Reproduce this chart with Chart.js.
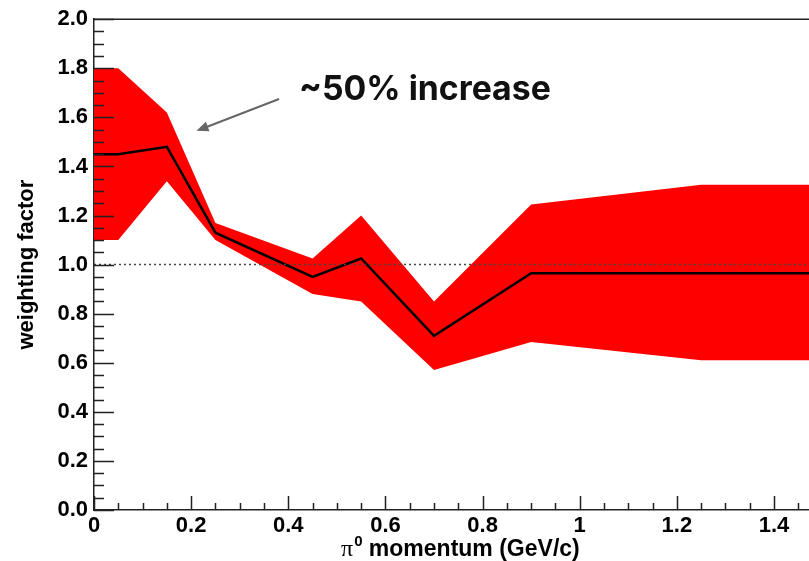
<!DOCTYPE html>
<html>
<head>
<meta charset="utf-8">
<script src="https://cdn.jsdelivr.net/npm/chart.js@4/dist/chart.umd.min.js"></script>
<style>
  html, body { margin: 0; padding: 0; background: #fff; }
  #wrap { width: 809px; height: 561px; }
</style>
</head>
<body>
<div id="wrap"><canvas id="weightChart" width="809" height="561"></canvas></div>
<script>
// pi0 momentum bin edges (GeV/c)
const momentum = [0, 0.05, 0.15, 0.25, 0.45, 0.55, 0.70, 0.90, 1.25, 1.50];
// central weighting factor
const weight = [1.45, 1.45, 1.48, 1.13, 0.95, 1.025, 0.71, 0.965, 0.965, 0.965];
// uncertainty band
const upper = [1.80, 1.80, 1.62, 1.17, 1.025, 1.20, 0.85, 1.245, 1.325, 1.325];
const lower = [1.10, 1.10, 1.34, 1.10, 0.88, 0.85, 0.57, 0.685, 0.61, 0.61];

const yTicks = [0, 0.2, 0.4, 0.6, 0.8, 1.0, 1.2, 1.4, 1.6, 1.8, 2.0];
const xTicks = [0, 0.2, 0.4, 0.6, 0.8, 1, 1.2, 1.4];

const annotationText = '~50% increase';
const xTitle = ' momentum (GeV/c)';
const yTitle = 'weighting factor';

const tickFont = { family: 'Liberation Sans', weight: 'bold', size: 22 };

function toPoints(vals) {
    return momentum.map((x, i) => ({ x: x, y: vals[i] }));
}

// inward ROOT style ticks, top frame, y=1 reference line, annotation
const rootDecor = {
    id: 'rootDecor',
    afterDatasetsDraw(chart) {
        const ctx = chart.ctx;
        const xs = chart.scales.x, ys = chart.scales.y;
        const area = chart.chartArea;
        ctx.save();
        // dotted unity line
        ctx.strokeStyle = '#444';
        ctx.lineWidth = 1.5;
        ctx.setLineDash([2, 3]);
        ctx.beginPath();
        ctx.moveTo(area.left, ys.getPixelForValue(1));
        ctx.lineTo(area.right, ys.getPixelForValue(1));
        ctx.stroke();
        ctx.setLineDash([]);
        ctx.restore();
    },
    afterDraw(chart) {
        const ctx = chart.ctx;
        const xs = chart.scales.x, ys = chart.scales.y;
        const area = chart.chartArea;
        ctx.save();
        ctx.strokeStyle = '#222';
        ctx.lineWidth = 1.5;
        // top frame
        ctx.beginPath();
        ctx.moveTo(area.left, area.top);
        ctx.lineTo(area.right, area.top);
        ctx.stroke();
        // y ticks
        ctx.beginPath();
        for (let i = 0; i <= 40; i++) {
            const py = Math.round(ys.getPixelForValue(i * 0.05)) + 0.5;
            const len = i % 4 === 0 ? 20 : 10;
            ctx.moveTo(area.left, py);
            ctx.lineTo(area.left + len, py);
        }
        // x ticks
        for (let i = 0; i * 0.05 <= xs.max; i++) {
            const px = Math.round(xs.getPixelForValue(i * 0.05)) + 0.5;
            const len = i % 4 === 0 ? 14 : 7;
            ctx.moveTo(px, area.bottom);
            ctx.lineTo(px, area.bottom - len);
        }
        ctx.stroke();

        // x axis title, right aligned at x = 1
        const right = xs.getPixelForValue(1);
        const base = 556;
        ctx.fillStyle = '#000';
        ctx.textBaseline = 'alphabetic';
        ctx.font = 'bold 23px "Liberation Sans"';
        const wMain = ctx.measureText(xTitle).width;
        ctx.font = 'bold 15px "Liberation Sans"';
        const wSup = ctx.measureText('0').width;
        ctx.font = '24px "Liberation Serif"';
        const wPi = ctx.measureText('π').width;
        let x0 = right - wMain - wSup - wPi - 1;
        ctx.fillText('π', x0, base);
        ctx.font = 'bold 15px "Liberation Sans"';
        ctx.fillText('0', x0 + wPi + 1, base - 10);
        ctx.font = 'bold 23px "Liberation Sans"';
        ctx.fillText(xTitle, x0 + wPi + wSup + 1, base);

        // annotation
        let size = 36;
        ctx.font = '700 ' + size + 'px Inter';
        size = size * 252 / ctx.measureText(annotationText).width;
        ctx.font = '700 ' + size.toFixed(1) + 'px Inter';
        ctx.fillStyle = '#111';
        ctx.fillText(annotationText, xs.getPixelForValue(0.422), ys.getPixelForValue(1.671));

        // arrow
        const ax0 = xs.getPixelForValue(0.381), ay0 = ys.getPixelForValue(1.675);
        const ax1 = xs.getPixelForValue(0.211), ay1 = ys.getPixelForValue(1.545);
        const ang = Math.atan2(ay1 - ay0, ax1 - ax0);
        ctx.strokeStyle = '#666';
        ctx.fillStyle = '#666';
        ctx.lineWidth = 2;
        ctx.beginPath();
        ctx.moveTo(ax0, ay0);
        ctx.lineTo(ax1 - 8 * Math.cos(ang), ay1 - 8 * Math.sin(ang));
        ctx.stroke();
        ctx.beginPath();
        ctx.moveTo(ax1, ay1);
        ctx.lineTo(ax1 - 12 * Math.cos(ang) + 5 * Math.sin(ang), ay1 - 12 * Math.sin(ang) - 5 * Math.cos(ang));
        ctx.lineTo(ax1 - 12 * Math.cos(ang) - 5 * Math.sin(ang), ay1 - 12 * Math.sin(ang) + 5 * Math.cos(ang));
        ctx.closePath();
        ctx.fill();
        ctx.restore();
    }
};

new Chart(document.getElementById('weightChart').getContext('2d'), {
    type: 'line',
    data: {
        datasets: [
            {
                label: 'weight',
                data: toPoints(weight),
                borderColor: '#000',
                borderWidth: 2.5,
                pointRadius: 0,
                fill: false,
                order: 0
            },
            {
                label: 'upper',
                data: toPoints(upper),
                borderWidth: 0,
                borderColor: 'rgba(0,0,0,0)',
                backgroundColor: '#ff0000',
                pointRadius: 0,
                fill: '+1',
                order: 1
            },
            {
                label: 'lower',
                data: toPoints(lower),
                borderWidth: 0,
                borderColor: 'rgba(0,0,0,0)',
                pointRadius: 0,
                fill: false,
                order: 2
            }
        ]
    },
    options: {
        responsive: false,
        animation: false,
        layout: { padding: { top: 18, right: 0, left: 0, bottom: 0 } },
        plugins: {
            legend: { display: false },
            tooltip: { enabled: false }
        },
        scales: {
            x: {
                type: 'linear',
                min: 0,
                max: 1.472,
                afterFit: (scale) => { scale.height = 51; },
                afterBuildTicks: (scale) => { scale.ticks = xTicks.map(v => ({ value: v })); },
                grid: { display: false, drawTicks: false },
                border: { display: true, color: '#222', width: 1.5 },
                ticks: {
                    padding: 3,
                    color: '#000',
                    font: tickFont,
                    maxRotation: 0,
                    autoSkip: false,
                    callback: (v) => String(+v.toFixed(1))
                }
            },
            y: {
                type: 'linear',
                min: 0,
                max: 2,
                afterFit: (scale) => { scale.width = 94; },
                afterBuildTicks: (scale) => { scale.ticks = yTicks.map(v => ({ value: v })); },
                grid: { display: false, drawTicks: false },
                border: { display: true, color: '#222', width: 1.5 },
                title: {
                    display: true,
                    text: yTitle,
                    color: '#000',
                    font: { family: 'Liberation Sans', weight: 'bold', size: 22 },
                    padding: { top: 14 }
                },
                ticks: {
                    padding: 6,
                    color: '#000',
                    font: tickFont,
                    autoSkip: false,
                    callback: (v) => v.toFixed(1)
                }
            }
        }
    },
    plugins: [rootDecor]
});
</script>
</body>
</html>
